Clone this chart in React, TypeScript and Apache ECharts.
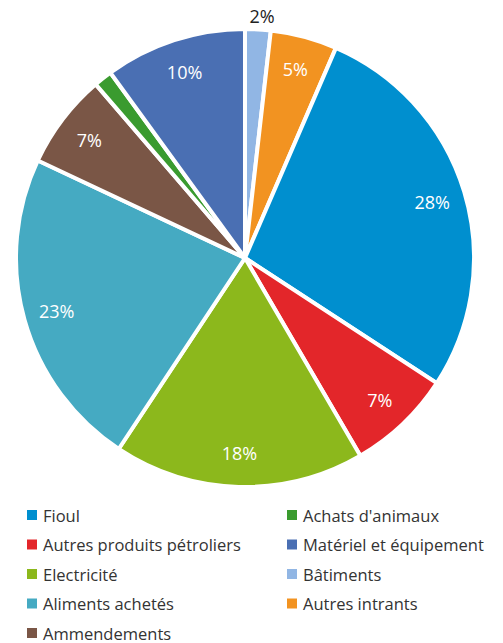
import React, { useEffect, useRef } from "react";
import * as echarts from "echarts";

const categories = [
  "Bâtiments",
  "Autres intrants",
  "Fioul",
  "Autres produits pétroliers",
  "Electricité",
  "Aliments achetés",
  "Ammendements",
  "Achats d'animaux",
  "Matériel et équipement",
];
const values = [1.8, 4.7, 27.7, 7.4, 17.7, 22.7, 6.7, 1.3, 10.0];
const sliceLabels = ["2%", "5%", "28%", "7%", "18%", "23%", "7%", "", "10%"];
const colors = [
  "#91B6E4",
  "#F29321",
  "#008FCF",
  "#E3262A",
  "#8CB81C",
  "#45AAC2",
  "#7A5646",
  "#3A9B2F",
  "#4A6FB3",
];
const legendLeft = [
  "Fioul",
  "Autres produits pétroliers",
  "Electricité",
  "Aliments achetés",
  "Ammendements",
];
const legendRight = [
  "Achats d'animaux",
  "Matériel et équipement",
  "Bâtiments",
  "Autres intrants",
];

const FONT = "Open Sans";

export default function App() {
  const ref = useRef<HTMLDivElement>(null);
  useEffect(() => {
    document.body.style.margin = "0";
    const chart = echarts.init(ref.current!, undefined, { renderer: "svg" });
    const colorOf = (n: string) => colors[categories.indexOf(n)];
    const legendBase = {
      orient: "vertical" as const,
      icon: "rect",
      itemWidth: 12,
      itemHeight: 12,
      itemGap: 11.5,
      top: 506,
      height: 160,
      padding: 0,
      selectedMode: false,
      textStyle: {
        fontFamily: FONT,
        fontSize: 16.5,
        color: "#333",
        lineHeight: 18,
      },
    };
    chart.setOption({
      animation: false,
      legend: [
        {
          ...legendBase,
          left: 25,
          data: legendLeft.map((n) => ({ name: n, itemStyle: { color: colorOf(n) } })),
        },
        {
          ...legendBase,
          left: 285,
          data: legendRight.map((n) => ({ name: n, itemStyle: { color: colorOf(n) } })),
        },
      ],
      series: [
        {
          type: "pie",
          center: [245, 258],
          radius: [0, 229],
          startAngle: 90,
          clockwise: true,
          silent: true,
          label: { show: false },
          labelLine: { show: false },
          itemStyle: { borderColor: "#fff", borderWidth: 4 },
          data: categories.map((n, i) => ({
            name: n,
            value: values[i],
            itemStyle: { color: colors[i] },
          })),
        },
        {
          type: "pie",
          center: [245, 258],
          radius: [158, 227],
          startAngle: 90,
          clockwise: true,
          silent: true,
          labelLine: { show: false },
          itemStyle: { color: "transparent", borderWidth: 0 },
          label: {
            show: true,
            position: "inside",
            fontFamily: FONT,
            fontSize: 18,
            color: "#fff",
          },
          data: categories.map((n, i) => ({
            name: n,
            value: values[i],
            itemStyle: { color: "transparent" },
            label:
              i === 0
                ? { formatter: sliceLabels[i], color: "#222", offset: [6, -47] }
                : { formatter: sliceLabels[i] },
          })),
        },
      ],
    });
    return () => chart.dispose();
  }, []);
  return <div ref={ref} style={{ width: 503, height: 643 }} />;
}
